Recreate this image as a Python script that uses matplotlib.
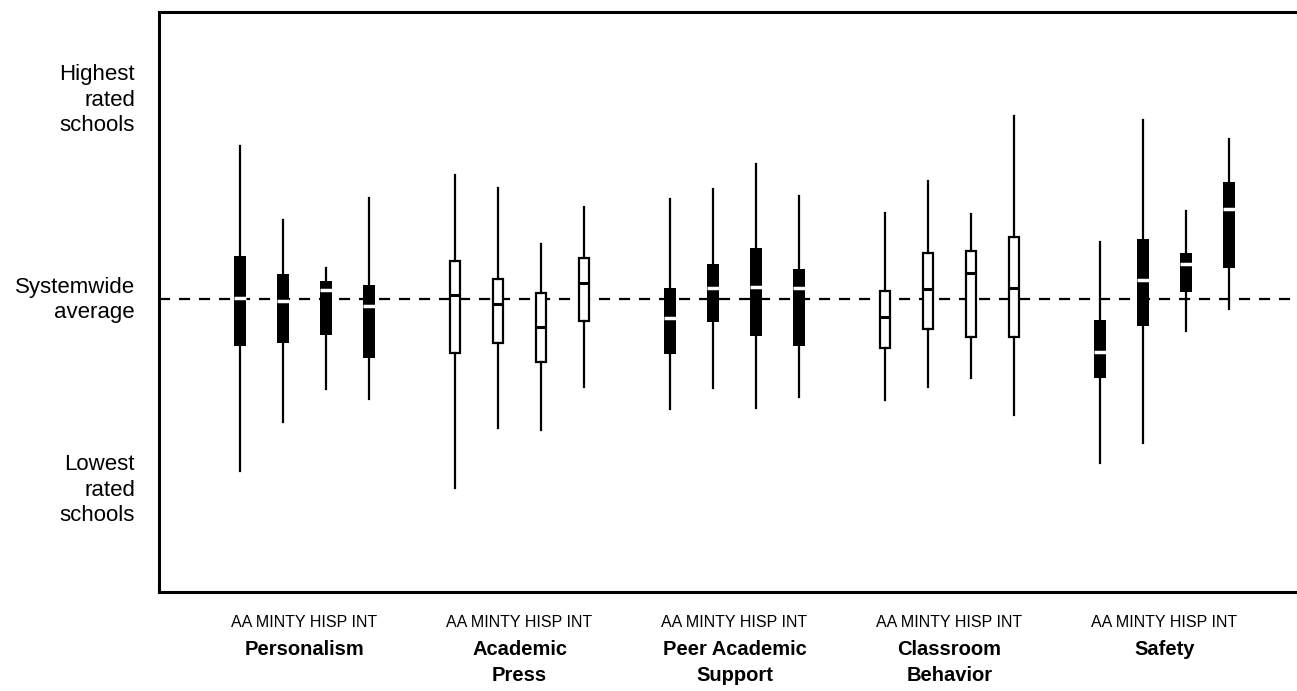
import matplotlib
matplotlib.use("Agg")
import matplotlib.pyplot as plt

# Escala: 0 = promedio del sistema
categorias = ["Personalism", "Academic\nPress", "Peer Academic\nSupport", "Classroom\nBehavior", "Safety"]
grupos = ["AA", "MINTY", "HISP", "INT"]
oscuro = [True, False, True, False, True]

# valores por categoria, en orden AA, MINTY, HISP, INT
whis_alto = [
    [15.3, 7.9, 3.1, 10.1],
    [12.4, 11.1, 5.5, 9.2],
    [10.0, 11.0, 13.5, 10.3],
    [8.6, 11.8, 8.5, 18.3],
    [5.7, 17.9, 8.8, 16.0],
]
q3 = [
    [4.3, 2.5, 1.8, 1.4],
    [3.8, 2.0, 0.6, 4.1],
    [1.1, 3.5, 5.1, 3.0],
    [0.8, 4.6, 4.8, 6.2],
    [-2.1, 6.0, 4.6, 11.7],
]
mediana = [
    [0.1, -0.2, 0.9, -0.7],
    [0.4, -0.5, -2.8, 1.6],
    [-1.9, 1.1, 1.2, 1.1],
    [-1.8, 1.0, 2.6, 1.1],
    [-5.3, 1.9, 3.5, 9.0],
]
q1 = [
    [-4.7, -4.4, -3.6, -5.9],
    [-5.4, -4.4, -6.3, -2.2],
    [-5.5, -2.3, -3.7, -4.7],
    [-4.9, -3.0, -3.8, -3.8],
    [-7.9, -2.7, 0.7, 3.1],
]
whis_bajo = [
    [-17.2, -12.3, -9.0, -10.0],
    [-18.9, -12.9, -13.1, -8.8],
    [-11.0, -8.9, -10.9, -9.8],
    [-10.1, -8.8, -7.9, -11.6],
    [-16.4, -14.4, -3.2, -1.0],
]

plt.rcParams["font.family"] = ["Liberation Sans", "DejaVu Sans"]

fig = plt.figure(figsize=(12.97, 6.91), dpi=100)
ax = fig.add_axes([159 / 1297, 1 - 592 / 691, 1 - 159 / 1297, 580 / 691])

for g in range(len(categorias)):
    stats = []
    for i in range(len(grupos)):
        stats.append({
            "whislo": whis_bajo[g][i], "q1": q1[g][i], "med": mediana[g][i],
            "q3": q3[g][i], "whishi": whis_alto[g][i],
        })
    pos = [g * 5 + i for i in range(len(grupos))]
    if oscuro[g]:
        caja = dict(facecolor="black", edgecolor="black", linewidth=0)
        med = dict(color="white", linewidth=2.5, solid_capstyle="butt")
        ancho = 0.27
    else:
        caja = dict(facecolor="white", edgecolor="black", linewidth=1.6)
        med = dict(color="black", linewidth=2.2, solid_capstyle="butt")
        ancho = 0.24
    ax.bxp(stats, positions=pos, widths=ancho, showcaps=False, showfliers=False,
           patch_artist=True, manage_ticks=False,
           boxprops=caja,
           whiskerprops=dict(color="black", linewidth=1.6),
           medianprops=med,
           zorder=3)
    centro = g * 5 + 1.5
    ax.text(centro, -0.052, " ".join(grupos), transform=ax.get_xaxis_transform(),
            ha="center", va="center", fontsize=11.5)
    ax.text(centro, -0.082, categorias[g], transform=ax.get_xaxis_transform(),
            ha="center", va="top", fontsize=14.5, fontweight="bold", linespacing=1.5)

ax.axhline(0, color="black", linestyle=(0, (5, 4)), linewidth=1.6, zorder=2)

ax.set_xlim(-1.884, 24.58)
ax.set_ylim(-29.3, 28.7)
ax.set_xticks([])
ax.set_yticks([])
for lado in ["left", "top", "bottom"]:
    ax.spines[lado].set_linewidth(2.2)
ax.spines["right"].set_visible(False)

etiquetas_y = ["Highest\nrated\nschools", "Systemwide\naverage", "Lowest\nrated\nschools"]
pos_y = [19.9, -0.1, -19.1]
for y, t in zip(pos_y, etiquetas_y):
    ax.text(-0.021, y, t, transform=ax.get_yaxis_transform(), ha="right", va="center",
            fontsize=16, linespacing=1.3, multialignment="right")

fig.savefig("out.png", dpi=100)
